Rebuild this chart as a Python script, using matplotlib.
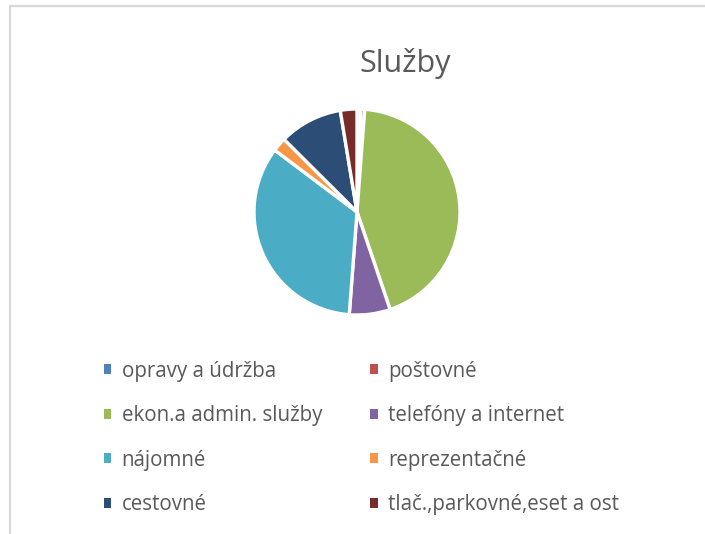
import matplotlib.pyplot as plt
from matplotlib.patches import Rectangle, Patch

plt.rcParams['font.family'] = ['Open Sans', 'DejaVu Sans']

categories = ['opravy a údržba', 'poštovné', 'ekon.a admin. služby',
              'telefóny a internet', 'nájomné', 'reprezentačné',
              'cestovné', 'tlač.,parkovné,eset a ost']
shares = [0.6, 0.6, 43.5, 6.4, 34.0, 2.2, 9.9, 2.6]
colors = ['#4F81BD', '#C0504D', '#9BBB59', '#8064A2',
          '#4BACC6', '#F79646', '#2C4D75', '#772C2A']

W, H = 705, 534
fig = plt.figure(figsize=(W / 100, H / 100), dpi=100)

# chart area border (light gray, only top/left visible)
fig.patches.append(Rectangle((10 / W, -0.1), 1.2, (H - 6) / H + 0.1,
                             transform=fig.transFigure, fill=False,
                             edgecolor='#d9d9d9', linewidth=1.6))

cx, cy, r = 357, 212, 103
ax = fig.add_axes([(cx - r) / W, (H - cy - r) / H, 2 * r / W, 2 * r / H])
wedges, _ = ax.pie(shares, colors=colors, startangle=90, counterclock=False,
                   wedgeprops=dict(edgecolor='white', linewidth=2.4))
for w in wedges:
    w.set_clip_on(False)
ax.set_xlim(-1, 1)
ax.set_ylim(-1, 1)
ax.set_axis_off()

fig.text(405 / W, 1 - 72 / H, 'Služby', ha='center', va='baseline',
         fontsize=22, color='#595959')

# legend filled column-first, so reorder to read row by row
order = [0, 2, 4, 6, 1, 3, 5, 7]
handles = [Patch(facecolor=colors[i], edgecolor='none') for i in order]
fig.legend(handles, [categories[i] for i in order],
           ncol=2, loc='upper left', bbox_to_anchor=(85 / W, 1 - 342 / H),
           frameon=False, fontsize=14.8, labelcolor='#595959',
           handlelength=0.38, handleheight=0.38, handletextpad=0.5,
           columnspacing=2.35, labelspacing=1.15)

fig.savefig('out.png', dpi=100)
